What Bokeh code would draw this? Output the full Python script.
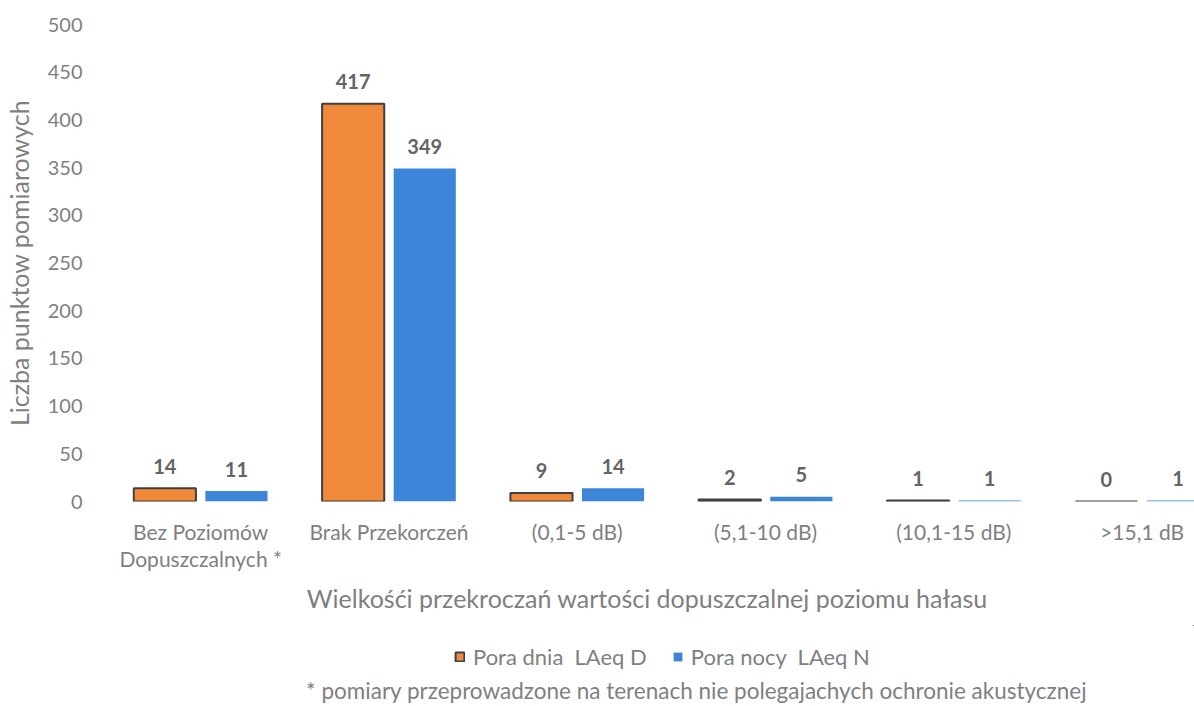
from bokeh.plotting import figure
from bokeh.layouts import column
from bokeh.core.properties import value
from bokeh.models import (ColumnDataSource, FixedTicker, LabelSet, Legend, LegendItem,
                          Range1d, Label)
from bokeh.embed import file_html
from bokeh.resources import INLINE

# Exceedance classes and number of measurement points
categories = ["Bez Poziomów\nDopuszczalnych *", "Brak Przekorczeń", "(0,1-5 dB)",
              "(5,1-10 dB)", "(10,1-15 dB)", ">15,1 dB"]
day_values = [14, 417, 9, 2, 1, 0]
night_values = [11, 349, 14, 5, 1, 1]
y_ticks = [0, 50, 100, 150, 200, 250, 300, 350, 400, 450, 500]

series_day = "Pora dnia  LAeq D"
series_night = "Pora nocy  LAeq N"
footnote = "* pomiary przeprowadzone  na terenach nie polegajachych ochronie akustycznej"

FONT = "Lato"
GREY = "#7f7f7f"
ORANGE = "#f08a3a"
BLUE = "#3d85d8"
EDGE = "#404040"

idx = list(range(len(categories)))
offset = 0.19
bar_w = 0.33

day_src = ColumnDataSource(dict(x=[i - offset for i in idx], top=day_values,
                                lbl=[str(v) for v in day_values]))
night_src = ColumnDataSource(dict(x=[i + offset for i in idx], top=night_values,
                                  lbl=[str(v) for v in night_values]))

# ---- main bar chart ----
p = figure(width=1194, height=625, output_backend="svg", toolbar_location=None,
           x_range=Range1d(-0.5, 5.278), y_range=Range1d(0, 500),
           min_border_left=102, min_border_right=0, min_border_top=24,
           min_border_bottom=124)
p.outline_line_color = None
p.grid.visible = False

p.vbar(x="x", top="top", width=bar_w, source=day_src, fill_color=ORANGE,
       line_color=EDGE, line_width=2)
p.vbar(x="x", top="top", width=bar_w, source=night_src, fill_color=BLUE,
       line_color=None)

# value labels above each bar
for src in (day_src, night_src):
    p.add_layout(LabelSet(x="x", y="top", text="lbl", source=src, y_offset=22,
                          text_align="center", text_baseline="middle",
                          text_font=value(FONT), text_font_style="bold",
                          text_font_size="20px", text_color="#646464"))

p.yaxis.ticker = FixedTicker(ticks=y_ticks)
p.yaxis.axis_line_color = None
p.yaxis.major_tick_line_color = None
p.yaxis.minor_tick_line_color = None
p.yaxis.major_label_standoff = 18
p.yaxis.major_label_text_font = FONT
p.yaxis.major_label_text_font_size = "20px"
p.yaxis.major_label_text_color = GREY
p.yaxis.axis_label = "Liczba punktow pomiarowych"
p.yaxis.axis_label_text_font = FONT
p.yaxis.axis_label_text_font_size = "25px"
p.yaxis.axis_label_text_font_style = "normal"
p.yaxis.axis_label_text_color = GREY
p.yaxis.axis_label_standoff = 11

p.xaxis.ticker = FixedTicker(ticks=idx)
p.xaxis.major_label_overrides = {i: c for i, c in zip(idx, categories)}
p.xaxis.axis_line_color = None
p.xaxis.major_tick_line_color = None
p.xaxis.minor_tick_line_color = None
p.xaxis.major_label_standoff = 11
p.xaxis.major_label_text_font = FONT
p.xaxis.major_label_text_font_size = "21px"
p.xaxis.major_label_text_line_height = 1.1
p.xaxis.major_label_text_color = GREY
p.xaxis.axis_label = "Wielkośći przekroczań wartości  dopuszczalnej poziomu hałasu"
p.xaxis.axis_label_text_font = FONT
p.xaxis.axis_label_text_font_size = "25px"
p.xaxis.axis_label_text_font_style = "normal"
p.xaxis.axis_label_text_color = GREY
p.xaxis.axis_label_standoff = 9

# ---- legend and footnote strip (frame aligned with the chart above) ----
f = figure(width=1194, height=81, output_backend="svg", toolbar_location=None,
           x_range=Range1d(-100, -99), y_range=Range1d(-100, -99),
           x_axis_type=None, y_axis_type=None,
           min_border_left=0, min_border_right=0, min_border_top=0, min_border_bottom=0)
f.outline_line_color = None
f.grid.visible = False

key_day = f.vbar(x="x", top="top", width=bar_w, source=day_src, fill_color=ORANGE,
                 line_color=EDGE, line_width=2)
key_night = f.vbar(x="x", top="top", width=bar_w, source=night_src, fill_color=BLUE,
                   line_color=None)

legend = Legend(items=[LegendItem(label=series_day, renderers=[key_day]),
                       LegendItem(label=series_night, renderers=[key_night])],
                orientation="horizontal", location=(348, 36),
                glyph_width=11, glyph_height=11, spacing=25, padding=0, margin=0,
                label_text_font=FONT, label_text_font_size="22px",
                label_text_color=GREY, label_standoff=8,
                border_line_color=None, background_fill_alpha=0)
f.add_layout(legend, "center")

f.add_layout(Label(x=593, y=16, x_units="screen", y_units="screen", text=footnote,
                   text_align="center", text_baseline="middle", text_font=FONT,
                   text_font_size="22.5px", text_color=GREY))

open("out.html", "w").write(file_html(column(p, f), INLINE))
